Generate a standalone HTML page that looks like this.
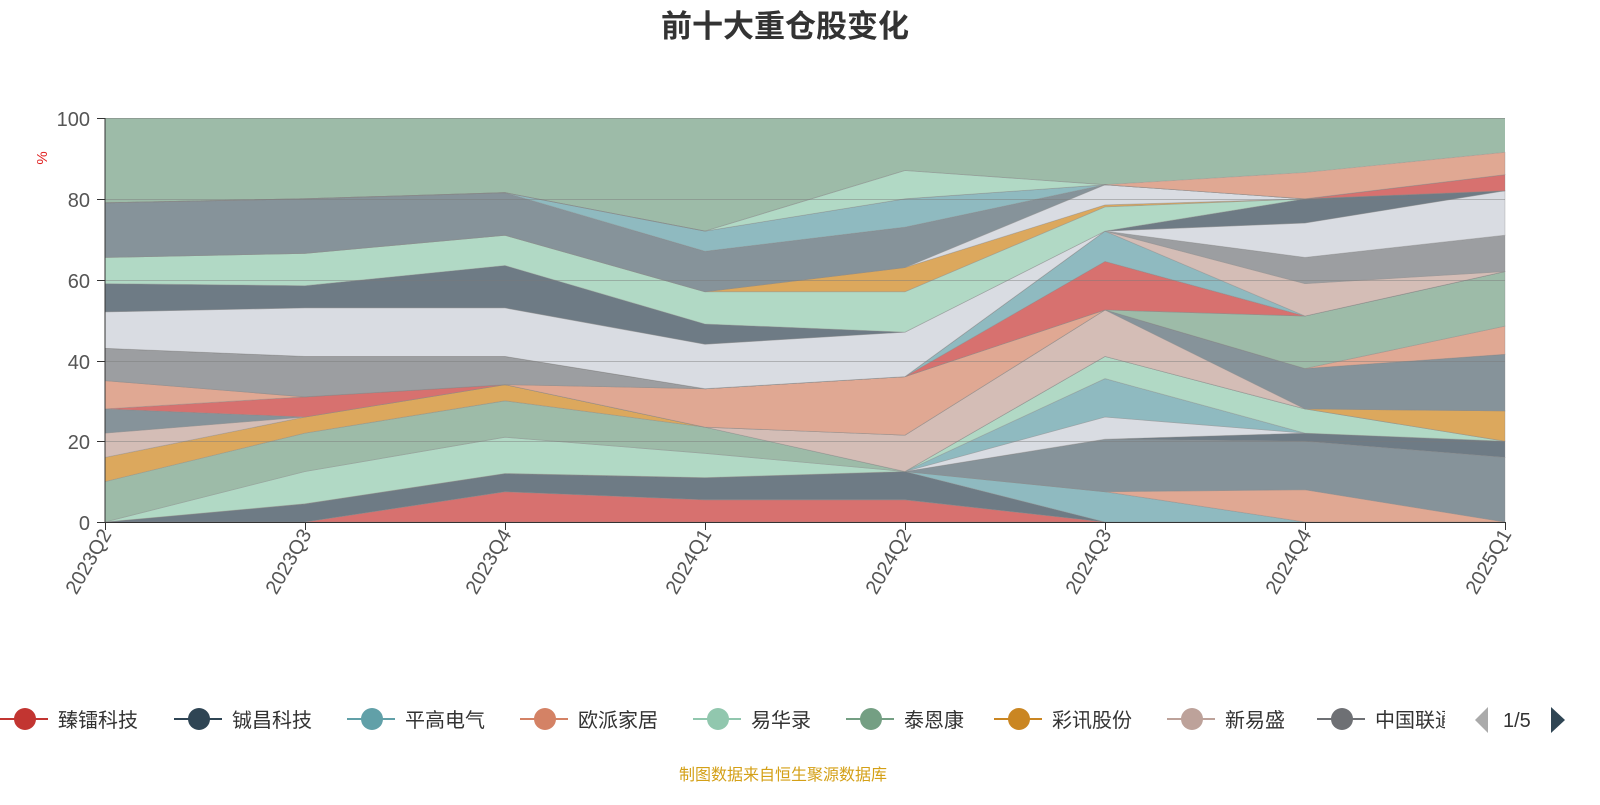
<!DOCTYPE html>
<html><head><meta charset="utf-8">
<style>
html,body{margin:0;padding:0;background:#fff;}
body{width:1600px;height:800px;overflow:hidden;font-family:"Liberation Sans","Noto Sans CJK SC",sans-serif;}
</style></head>
<body>
<svg id="s" width="1600" height="800" xmlns="http://www.w3.org/2000/svg" font-family="Liberation Sans, Noto Sans CJK SC, sans-serif">
<text x="785" y="37" text-anchor="middle" font-size="31" font-weight="bold" fill="#333">前十大重仓股变化</text>
<g id="areas"></g>
<g stroke="#7a7a7a" stroke-opacity="0.45" stroke-width="1">
<line x1="105" x2="1505" y1="118.5" y2="118.5"/>
<line x1="105" x2="1505" y1="199.5" y2="199.5"/>
<line x1="105" x2="1505" y1="280.5" y2="280.5"/>
<line x1="105" x2="1505" y1="361.5" y2="361.5"/>
<line x1="105" x2="1505" y1="441.5" y2="441.5"/>
</g>
<line x1="105" x2="105" y1="118" y2="522" stroke="#333"/>
<line x1="105" x2="1505" y1="522.5" y2="522.5" stroke="#333"/>
<g stroke="#333">
<line x1="97" x2="105" y1="118.5" y2="118.5"/><line x1="97" x2="105" y1="199.5" y2="199.5"/>
<line x1="97" x2="105" y1="280.5" y2="280.5"/><line x1="97" x2="105" y1="361.5" y2="361.5"/>
<line x1="97" x2="105" y1="441.5" y2="441.5"/><line x1="97" x2="105" y1="522.5" y2="522.5"/>
</g>
<g font-size="20" fill="#555" text-anchor="end">
<text x="90" y="126">100</text><text x="90" y="207">80</text><text x="90" y="288">60</text>
<text x="90" y="369">40</text><text x="90" y="449">20</text><text x="90" y="530">0</text>
</g>
<text x="47" y="158" font-size="15" fill="#e02020" transform="rotate(-90 47 158)" text-anchor="middle">%</text>
<g id="xl" font-size="20" fill="#555"></g>
<g id="lg" font-size="20" fill="#333"></g>
<polygon points="1488,707 1488,733 1475,720" fill="#aaa"/>
<text x="1503" y="727" font-size="20" fill="#333">1/5</text>
<polygon points="1551,707 1551,733 1565,720" fill="#2f4554"/>
<text x="783" y="780" font-size="16" fill="#d4a017" text-anchor="middle">制图数据来自恒生聚源数据库</text>
</svg>
<script>
var S=[
["#d7716f",[0,0,7.5,5.5,5.5,0,0,0]],
["#6e7b85",[0,4.5,4.5,5.5,7,0,0,0]],
["#8fbac0",[0,0,0,0,0,7.5,0,0]],
["#e0a893",[0,0,0,0,0,0,8,0]],
["#86939a",[0,0,0,0,0,13,12,16]],
["#6e7b85",[0,0,0,0,0,0,2,4]],
["#d9dce2",[0,0,0,0,0,5.5,0,0]],
["#8fbac0",[0,0,0,0,0,9.5,0,0]],
["#b1d9c5",[0,8,9,6,0,5.5,6,0]],
["#9dbba8",[10,9.5,9,6.5,0,0,0,0]],
["#dca85d",[6,4,4,0,0,0,0,7.5]],
["#d4bdb6",[6,0,0,0,9,11.5,0,0]],
["#86939a",[6,0,0,0,0,0,10,14]],
["#d7716f",[0,5,0,0,0,0,0,0]],
["#e0a893",[7,0,0,9.5,14.5,0,0,7]],
["#9dbba8",[0,0,0,0,0,0,13,13.5]],
["#9c9ea1",[8,10,7,0,0,0,0,0]],
["#d7716f",[0,0,0,0,0,12,0,0]],
["#8fbac0",[0,0,0,0,0,7.5,0,0]],
["#d4bdb6",[0,0,0,0,0,0,8,0]],
["#9c9ea1",[0,0,0,0,0,0,6.5,9]],
["#d9dce2",[9,12,12,11,11,0,8.5,11]],
["#6e7b85",[7,5.5,10.5,5,0,0,6,0]],
["#b1d9c5",[6.5,8,7.5,8,10,6,0,0]],
["#dca85d",[0,0,0,0,6,0.5,0,0]],
["#d9dce2",[0,0,0,0,0,5,0,0]],
["#86939a",[13.5,13.5,10.5,10,10,0,0,0]],
["#8fbac0",[0,0,0,5,7,0,0,0]],
["#d7716f",[0,0,0,0,0,0,0,4]],
["#b1d9c5",[0,0,0,0,7,0,0,0]],
["#e0a893",[0,0,0,0,0,0,6.5,5.5]]
];
var X=[105,305,505,705,905,1105,1305,1505];
function Y(v){return 522-v*4.04;}
var cum=[0,0,0,0,0,0,0,0],h="";
S.forEach(function(s){
 var lo=cum.slice();
 for(var i=0;i<8;i++)cum[i]+=s[1][i];
 var p=[];
 for(var i=0;i<8;i++)p.push(X[i]+","+Y(cum[i]).toFixed(1));
 for(var i=7;i>=0;i--)p.push(X[i]+","+Y(lo[i]).toFixed(1));
 h+='<polygon points="'+p.join(" ")+'" fill="'+s[0]+'" stroke="#888" stroke-opacity="0.4" stroke-width="0.8"/>';
});
var lo=cum.slice(),p=[];
for(var i=0;i<8;i++)p.push(X[i]+","+Y(100));
for(var i=7;i>=0;i--)p.push(X[i]+","+Y(lo[i]).toFixed(1));
h='<polygon points="'+p.join(" ")+'" fill="#9dbba8"/>'+h;
document.getElementById("areas").innerHTML=h;
var L=["2023Q2","2023Q3","2023Q4","2024Q1","2024Q2","2024Q3","2024Q4","2025Q1"],xl="";
L.forEach(function(t,i){var x=X[i];
 xl+='<line x1="'+(x+.5)+'" x2="'+(x+.5)+'" y1="522" y2="530" stroke="#333"/>';
 xl+='<text x="'+(x+7)+'" y="534" text-anchor="end" transform="rotate(-60 '+(x+7)+' 534)">'+t+'</text>';});
document.getElementById("xl").innerHTML=xl;
var G=[["臻镭科技","#c23531",0],["铖昌科技","#2f4554",174],["平高电气","#61a0a8",347],["欧派家居","#d48265",520],["易华录","#91c7ae",693],["泰恩康","#749f83",846],["彩讯股份","#ca8622",994],["新易盛","#bda29a",1167],["中国联通","#6e7074",1317]],lg="";
G.forEach(function(g){var x=g[2];
 lg+='<line x1="'+x+'" x2="'+(x+48)+'" y1="719" y2="719" stroke="'+g[1]+'" stroke-width="2"/><circle cx="'+(x+25)+'" cy="719" r="11" fill="'+g[1]+'"/>';
 lg+='<text x="'+(x+58)+'" y="727">'+g[0]+'</text>';});
document.getElementById("lg").innerHTML='<clipPath id="c"><rect x="0" y="690" width="1445" height="60"/></clipPath><g clip-path="url(#c)">'+lg+'</g>';
</script>
</body></html>
